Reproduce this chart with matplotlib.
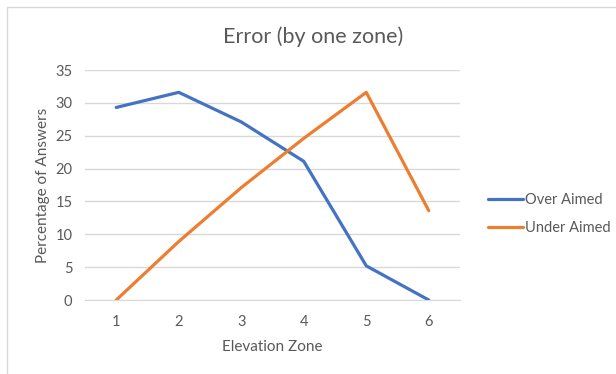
import matplotlib
matplotlib.use("Agg")
import matplotlib.pyplot as plt
from matplotlib.patches import Rectangle

zones = [1, 2, 3, 4, 5, 6]
over_aimed = [29.3, 31.6, 27.1, 21.1, 5.2, 0.0]
under_aimed = [0.0, 8.9, 17.1, 24.6, 31.6, 13.6]
y_ticks = [0, 5, 10, 15, 20, 25, 30, 35]

plt.rcParams['font.family'] = ['Lato', 'DejaVu Sans']
text_color = '#595959'

fig = plt.figure(figsize=(6.16, 3.74), dpi=100)
fig.patches.append(Rectangle((7/616, -0.1), 1.2, (374-7)/374 + 0.1,
                             transform=fig.transFigure, fill=False,
                             edgecolor='#D9D9D9', linewidth=1.0))
ax = fig.add_axes([85/616, (374-300)/374, (460-85)/616, 230/374])

x = list(range(len(zones)))
ax.plot(x, over_aimed, color='#4472C4', linewidth=2.3, label='Over Aimed',
        solid_capstyle='round', solid_joinstyle='round')
ax.plot(x, under_aimed, color='#ED7D31', linewidth=2.3, label='Under Aimed',
        solid_capstyle='round', solid_joinstyle='round')

ax.set_xlim(-0.5, len(zones) - 0.5)
ax.set_ylim(0, 35)
ax.set_yticks(y_ticks)
ax.set_xticks(x)
ax.set_xticklabels([str(z) for z in zones])
ax.grid(axis='y', color='#D9D9D9', linewidth=1.0)
ax.set_axisbelow(True)
for s in ['top', 'right', 'left']:
    ax.spines[s].set_visible(False)
ax.spines['bottom'].set_color('#D9D9D9')
ax.tick_params(axis='both', length=0, colors=text_color, labelsize=10.5)
ax.tick_params(axis='y', pad=9)
ax.tick_params(axis='x', pad=11)

fig.text(313/616, 1 - 37/374, 'Error (by one zone)', fontsize=15.5,
         color=text_color, ha='center', va='center')
ax.set_xlabel('Elevation Zone', fontsize=11, color=text_color, labelpad=8)
ax.set_ylabel('Percentage of Answers', fontsize=11, color=text_color, labelpad=4)

leg = ax.legend(loc='center left', bbox_to_anchor=(1.04, 0.374), frameon=False,
                fontsize=10.5, handlelength=2.4, handletextpad=0.1,
                labelspacing=0.95, labelcolor=text_color)

fig.savefig('out.png', dpi=100)
